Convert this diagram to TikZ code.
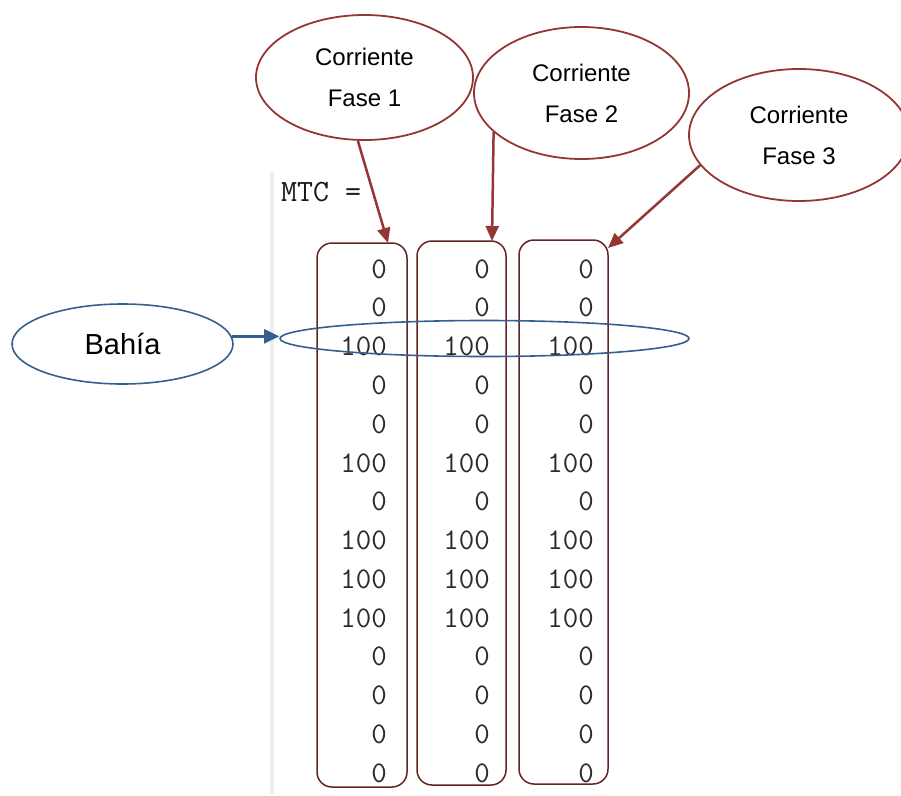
\documentclass[tikz,border=0pt]{standalone}
\usepackage{fontspec}
\setmainfont{Liberation Sans}
\usetikzlibrary{shapes.geometric,arrows.meta}
\definecolor{callred}{HTML}{943634}
\definecolor{boxbrown}{HTML}{632523}
\definecolor{callblue}{HTML}{365F91}
\definecolor{rulegray}{HTML}{EDEDED}
\definecolor{numtext}{HTML}{2B2B2B}
\tikzset{
  bubble/.style={ellipse, draw=callred, line width=1.8pt, inner sep=0pt,
    align=center, font=\fontsize{24}{41}\selectfont},
  pointer/.style={draw=callred, line width=2.5pt,
    -{Triangle[length=15pt,width=13pt]}},
  column/.style={rectangle, rounded corners=15pt, draw=boxbrown,
    line width=1.5pt, minimum width=89pt, minimum height=544pt, inner sep=0pt},
  entry/.style={anchor=east, inner sep=0pt, text=numtext,
    font=\ttfamily\fontsize{30}{30}\selectfont},
  bluebubble/.style={ellipse, draw=callblue, line width=1.6pt, inner sep=0pt},
  bluepointer/.style={draw=callblue, line width=2.6pt,
    -{Triangle[length=15pt,width=14pt]}}
}
\begin{document}
\begin{tikzpicture}[x=1pt,y=-1pt]
\useasboundingbox (0,0) rectangle (901,795);
\clip (0,0) rectangle (901,795);
\fill[white] (0,0) rectangle (901,795);

% command window margin
\fill[rulegray] (270,172) rectangle (274,795);

% matrix output
\node[anchor=west, inner sep=0pt, text=black!90,
  font=\ttfamily\fontsize{31}{31}\selectfont] (mtc) at (281,192) {MTC =};

\node[column, minimum width=90pt] (b1) at (362,515) {};
\node[column] (b2) at (461.5,513) {};
\node[column] (b3) at (563.5,512) {};

\foreach \v [count=\i from 0] in {0,0,100,0,0,100,0,100,100,100,0,0,0,0}{
  \pgfmathsetmacro{\yy}{269+38.77*\i}
  \node[entry] (c1r\i) at (387,\yy) {\v};
  \node[entry] (c2r\i) at (490,\yy) {\v};
  \node[entry] (c3r\i) at (594,\yy) {\v};
}

% phase callouts
\node[bubble, minimum width=217pt, minimum height=125pt] (f1) at (364.5,77.5)
  {Corriente\\Fase 1};
\node[bubble, minimum width=215pt, minimum height=132pt] (f2) at (581.5,93)
  {Corriente\\Fase 2};
\node[bubble, minimum width=220pt, minimum height=132pt] (f3) at (799,135)
  {Corriente\\Fase 3};

\coordinate (t1) at (388,243);
\coordinate (t2) at (492,241);
\coordinate (t3) at (608,248);
\draw[pointer] (f1.264) -- (t1);
\draw[pointer] (f2.204.6) -- (t2);
\draw[pointer] (f3.197) -- (t3);

% bay callout
\node[bluebubble, minimum width=221pt, minimum height=80pt,
  font=\fontsize{29}{29}\selectfont] (bahia) at (122.5,344) {Bahía};
\node[bluebubble, minimum width=409pt, minimum height=36pt] (bay) at (484.5,338.5) {};
\draw[bluepointer] (bahia.4) -- (bahia.4 -| bay.west);
\end{tikzpicture}
\end{document}
